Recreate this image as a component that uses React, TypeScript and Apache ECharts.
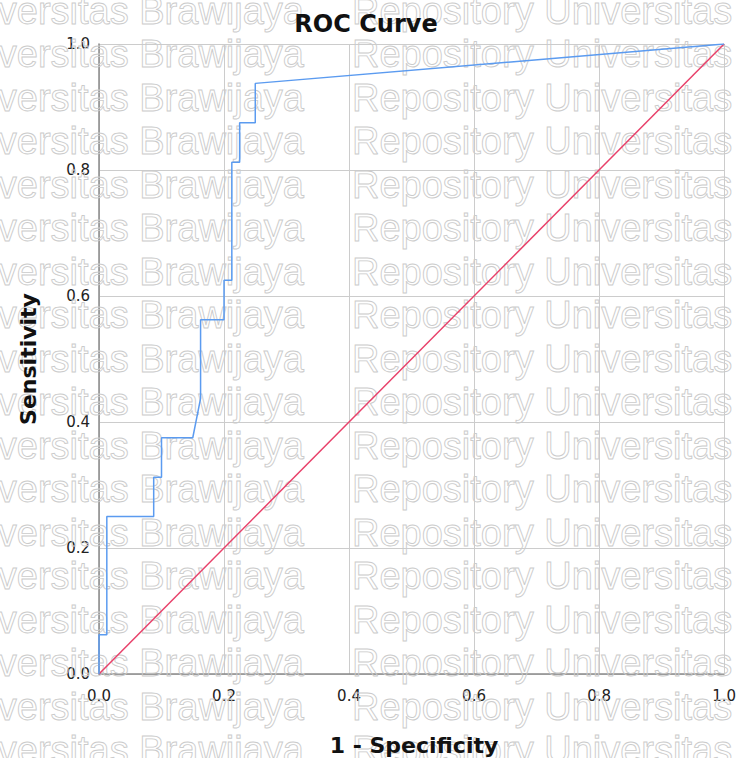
import React, { useEffect, useRef } from "react";
import * as echarts from "echarts";

// ROC curve points: false positive rate (1 - specificity) and sensitivity
const fprValues = [0, 0, 0.0125, 0.0125, 0.0875, 0.0875, 0.1, 0.1, 0.15, 0.1625, 0.1625, 0.2, 0.2, 0.2125, 0.2125, 0.225, 0.225, 0.25, 0.25, 1];
const tprValues = [0, 0.0625, 0.0625, 0.25, 0.25, 0.3125, 0.3125, 0.375, 0.375, 0.4375, 0.5625, 0.5625, 0.625, 0.625, 0.8125, 0.8125, 0.875, 0.875, 0.9375, 1];

// Chance (reference) line
const refX = [0, 1];
const refY = [0, 1];

const titleText = "ROC Curve";
const xAxisTitle = "1 - Specificity";
const yAxisTitle = "Sensitivity";

// Repository watermark text
const watermarkLeft = "Universitas Brawijaya";
const watermarkRight = "Repository Universitas";
const watermarkRows = 18;

const W = 739;
const H = 758;

export default function App() {
  const ref = useRef<HTMLDivElement>(null);

  useEffect(() => {
    if (!ref.current) return;
    const chart = echarts.init(ref.current, null, { renderer: "svg" });

    const rocData = fprValues.map((x, i) => [x, tprValues[i]]);
    const refData = refX.map((x, i) => [x, refY[i]]);

    const wmStyle = {
      font: "38px 'Liberation Sans', Arial, sans-serif",
      fill: "none",
      stroke: "#cbcbcb",
      lineWidth: 0.9,
      verticalAlign: "middle",
    };
    const watermark: any[] = [];
    for (let k = 0; k < watermarkRows; k++) {
      const baseline = 24 + 43.5 * k;
      const cy = baseline - 13.3;
      watermark.push({
        type: "text",
        x: 304,
        y: cy,
        z: 1,
        silent: true,
        style: { ...wmStyle, text: watermarkLeft, align: "right" },
      });
      watermark.push({
        type: "text",
        x: 352,
        y: cy,
        z: 1,
        silent: true,
        style: { ...wmStyle, text: watermarkRight, align: "left" },
      });
    }

    const chartFont = "'DejaVu Sans', sans-serif";

    chart.setOption({
      animation: false,
      backgroundColor: "#ffffff",
      grid: { left: 99, top: 44, width: 630, height: 630, containLabel: false },
      xAxis: {
        type: "value",
        min: 0,
        max: 1,
        interval: 0.2,
        axisLine: { show: true, lineStyle: { color: "#8a8a8a", width: 1.5 } },
        axisTick: { show: false },
        axisLabel: {
          margin: 14,
          color: "#222",
          fontSize: 15,
          fontFamily: chartFont,
          formatter: (v: number) => v.toFixed(1),
        },
        splitLine: { show: true, lineStyle: { color: "#cccccc", width: 1 } },
      },
      yAxis: {
        type: "value",
        min: 0,
        max: 1,
        interval: 0.2,
        axisLine: { show: true, lineStyle: { color: "#8a8a8a", width: 1.5 } },
        axisTick: { show: false },
        axisLabel: {
          margin: 9,
          color: "#222",
          fontSize: 15,
          fontFamily: chartFont,
          padding: [7, 0, 0, 0],
          formatter: (v: number) => v.toFixed(1),
        },
        splitLine: { show: true, lineStyle: { color: "#cccccc", width: 1 } },
      },
      graphic: [
        ...watermark,
        {
          type: "text",
          x: 366,
          y: 24,
          z: 10,
          style: {
            text: titleText,
            font: `bold 24px ${chartFont}`,
            fill: "#111",
            align: "center",
            verticalAlign: "middle",
          },
        },
        {
          type: "text",
          x: 414,
          y: 745,
          z: 10,
          style: {
            text: xAxisTitle,
            font: `bold 22px ${chartFont}`,
            fill: "#111",
            align: "center",
            verticalAlign: "middle",
          },
        },
        {
          type: "text",
          x: 28,
          y: 359,
          rotation: Math.PI / 2,
          z: 10,
          style: {
            text: yAxisTitle,
            font: `bold 22px ${chartFont}`,
            fill: "#111",
            align: "center",
            verticalAlign: "middle",
          },
        },
      ],
      series: [
        {
          name: "Reference",
          type: "line",
          data: refData,
          showSymbol: false,
          z: 3,
          lineStyle: { color: "#e8416a", width: 1.5 },
        },
        {
          name: "ROC",
          type: "line",
          data: rocData,
          showSymbol: false,
          z: 4,
          lineStyle: { color: "#5b9bf0", width: 1.5 },
        },
      ],
    });

    return () => chart.dispose();
  }, []);

  return (
    <div
      ref={ref}
      style={{ position: "fixed", left: 0, top: 0, width: W, height: H, background: "#fff" }}
    />
  );
}
